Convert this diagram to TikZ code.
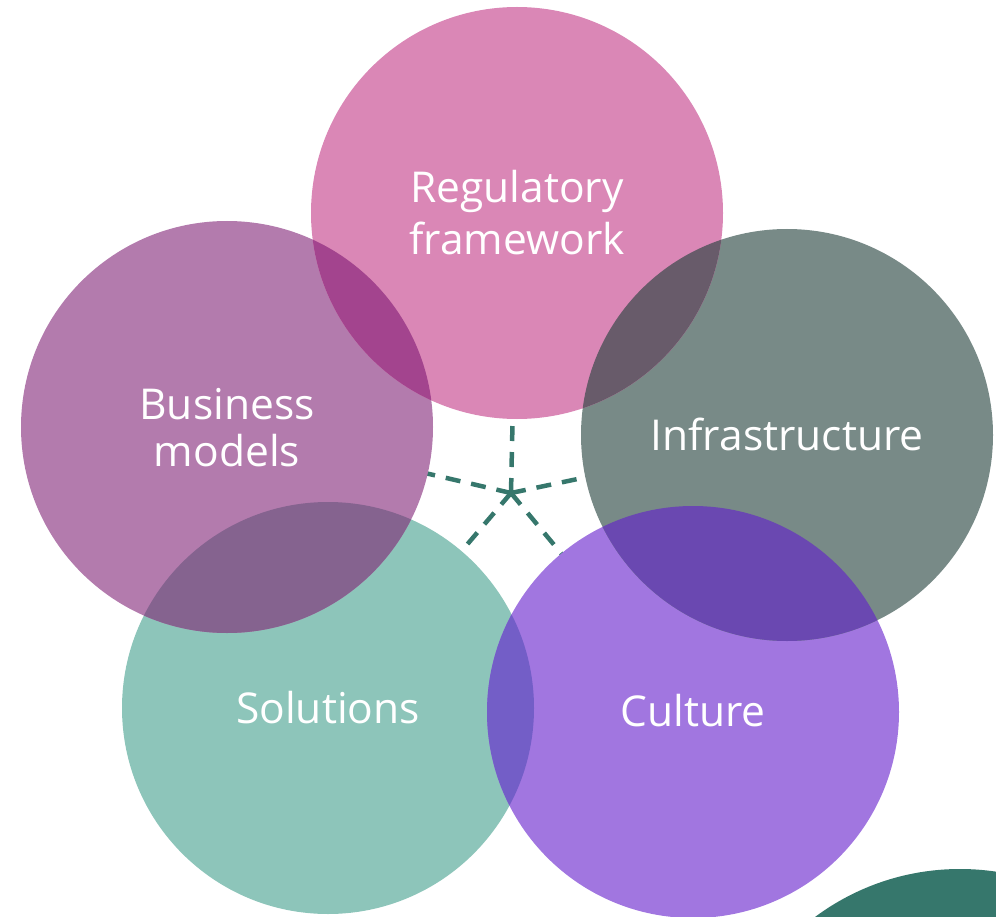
\documentclass[tikz,border=0pt]{standalone}
\usepackage{fontspec}
\setmainfont{Open Sans}
\definecolor{cReg}{HTML}{DA87B6}
\definecolor{cBus}{HTML}{B37BAD}
\definecolor{cInf}{HTML}{788A87}
\definecolor{cSol}{HTML}{8DC5BA}
\definecolor{cCul}{HTML}{A176E0}
\definecolor{dgreen}{HTML}{36776C}
\definecolor{lRB}{HTML}{A3448E}
\definecolor{lRI}{HTML}{685B6A}
\definecolor{lBS}{HTML}{85638F}
\definecolor{lSC}{HTML}{735EC7}
\definecolor{lIC}{HTML}{6A48B1}
\begin{document}
\begin{tikzpicture}[x=1pt,y=-1pt,
  bubble/.style={circle,inner sep=0pt,minimum size=412pt,draw=none},
  lbl/.style={text=white,font=\fontsize{42.5}{#1}\selectfont,align=center,inner sep=0pt},
  lbl/.default=50,
  link/.style={draw=dgreen,line width=4.5pt,dash pattern=on 15pt off 11pt}]
\useasboundingbox (0,0) rectangle (996,917);
\clip (0,0) rectangle (996,917);
\coordinate (hub) at (511,493);
\coordinate (cR) at (517,213);
\coordinate (cB) at (227,427);
\coordinate (cI) at (787,435);
\coordinate (cS) at (328,708);
\coordinate (cC) at (693,712);
% dashed connectors (beneath the circles)
\draw[link] (hub) -- (cR);
\draw[link] (hub) -- (cB);
\draw[link] (hub) -- (cI);
\draw[link] (hub) -- (cS);
\draw[link] (hub) -- (cC);
% circles
\node[bubble,fill=cSol] (sol) at (cS) {};
\node[bubble,fill=cCul] (cul) at (cC) {};
\node[bubble,fill=cInf] (inf) at (cI) {};
\node[bubble,fill=cBus] (bus) at (cB) {};
\node[bubble,fill=cReg] (reg) at (cR) {};
\node[circle,inner sep=0pt,minimum size=486pt,fill=dgreen] (deco) at (960,1112) {};
% overlaps
\begin{scope}\clip (cR) circle[radius=206]; \fill[lRB] (cB) circle[radius=206];\end{scope}
\begin{scope}\clip (cR) circle[radius=206]; \fill[lRI] (cI) circle[radius=206];\end{scope}
\begin{scope}\clip (cB) circle[radius=206]; \fill[lBS] (cS) circle[radius=206];\end{scope}
\begin{scope}\clip (cS) circle[radius=206]; \fill[lSC] (cC) circle[radius=206];\end{scope}
\begin{scope}\clip (cI) circle[radius=206]; \fill[lIC] (cC) circle[radius=206];\end{scope}
% labels
\node[lbl=52] (tReg) at (517,213) {Regulatory\\framework};
\node[lbl=47] (tBus) at (227,428) {Business\\models};
\node[lbl] (tInf) at (787,434) {Infrastructure};
\node[lbl] (tSol) at (328,708) {Solutions};
\node[lbl] (tCul) at (693,711) {Culture};
\end{tikzpicture}
\end{document}
